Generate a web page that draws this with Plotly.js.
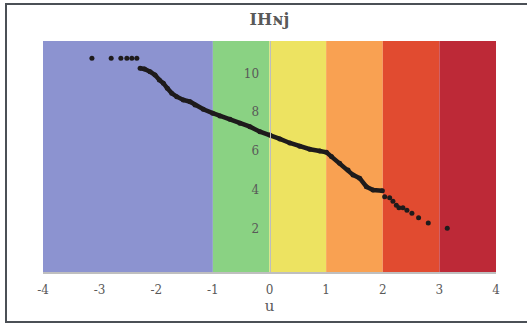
<!DOCTYPE html>
<html>
<head>
<meta charset="utf-8">
<script src="https://cdn.plot.ly/plotly-3.0.1.min.js"></script>
<style>
  html, body { margin: 0; padding: 0; background: #ffffff; }
  #wrap { position: relative; width: 527px; height: 323px; overflow: hidden; }
  #chart { position: absolute; left: 0; top: 0; width: 527px; height: 323px; }
  #frame { position: absolute; left: 5px; top: 3px; width: 540px; height: 316px;
           border: 2.5px solid #4b5056; pointer-events: none; }
</style>
</head>
<body>
<div id="wrap">
  <div id="chart"></div>
  <div id="frame"></div>
</div>
<script>
// --- Data (normal quantile u vs value) ---
// isolated low-u points
const uLow = [-3.136, -2.796, -2.625, -2.519, -2.431, -2.343];
const yLow = [10.77, 10.77, 10.77, 10.77, 10.77, 10.77];

// dense central run of points
const uMid = [-2.285, -2.209, -2.109, -2.021, -1.945, -1.874, -1.804, -1.726, -1.638, -1.522,
              -1.403, -1.315, -1.169, -1.003, -0.875, -0.698, -0.522, -0.346, -0.169, 0.006,
              0.183, 0.359, 0.535, 0.712, 0.888, 1.006, 1.094, 1.240, 1.387, 1.475,
              1.593, 1.711, 1.828, 1.993];
const yMid = [10.26, 10.22, 10.08, 9.91, 9.66, 9.49, 9.23, 8.97, 8.80, 8.63,
              8.54, 8.37, 8.15, 7.95, 7.81, 7.64, 7.43, 7.26, 7.00, 6.83,
              6.63, 6.42, 6.25, 6.10, 6.01, 5.94, 5.72, 5.38, 5.03, 4.78,
              4.61, 4.17, 4.00, 3.97];

// isolated high-u points
const uHigh = [2.034, 2.122, 2.180, 2.240, 2.286, 2.356, 2.427, 2.515, 2.633, 2.804, 3.139];
const yHigh = [3.66, 3.61, 3.42, 3.22, 3.09, 3.09, 2.96, 2.81, 2.58, 2.31, 2.04];

// background bands along u
const bandStart = [-4, -1, 0, 1, 2, 3];
const bandEnd   = [-1, 0, 1, 2, 3, 4];
const bandColor = ['#8c93d0', '#8ad283', '#ede361', '#f9a152', '#e14b30', '#bd2937'];

// axis ticks
const xTicks = [-4, -3, -2, -1, 0, 1, 2, 3, 4];
const yTicks = [2, 4, 6, 8, 10];

const FONT = 'DejaVu Serif, Liberation Serif, serif';
const GREY = '#595959';
const DOT = '#1e1b1c';

const traces = [
  { x: uLow, y: yLow, type: 'scatter', mode: 'markers',
    marker: { color: DOT, size: 5 }, hoverinfo: 'skip', showlegend: false },
  { x: uMid, y: yMid, type: 'scatter', mode: 'lines+markers',
    line: { color: DOT, width: 4.5 }, marker: { color: DOT, size: 5 },
    hoverinfo: 'skip', showlegend: false },
  { x: uHigh, y: yHigh, type: 'scatter', mode: 'markers',
    marker: { color: DOT, size: 5 }, hoverinfo: 'skip', showlegend: false }
];

const shapes = bandStart.map((s, i) => ({
  type: 'rect', xref: 'x', yref: 'paper', x0: s, x1: bandEnd[i], y0: 0, y1: 1,
  fillcolor: bandColor[i], line: { width: 0 }, layer: 'below'
}));

const layout = {
  width: 527, height: 323,
  margin: { l: 43, r: 31, t: 41, b: 51 },
  paper_bgcolor: '#ffffff', plot_bgcolor: '#ffffff',
  font: { family: FONT, color: GREY, size: 12 },
  title: { text: 'IHɴj', x: 0.5, xref: 'paper', xanchor: 'center',
           y: 1 - 19 / 323, yref: 'container', yanchor: 'middle',
           font: { family: FONT, size: 16, color: GREY, weight: 'bold' } },
  xaxis: { range: [-4, 4], tickvals: xTicks, ticktext: xTicks.map(String),
           showgrid: false, zeroline: false, showline: true, linecolor: '#bfbfbf', linewidth: 2,
           ticks: '', ticklabelstandoff: 6,
           tickfont: { family: FONT, size: 12, color: GREY } ,
           title: { text: 'u', standoff: 4, font: { family: FONT, size: 15, color: GREY } } },
  yaxis: { range: [-0.21, 11.66], tickvals: yTicks, ticktext: yTicks.map(String),
           anchor: 'free', position: 0.5, side: 'left',
           showgrid: false, zeroline: false, showline: true, linecolor: '#bdbdbd', linewidth: 1,
           ticks: '', ticklabelstandoff: 8,
           tickfont: { family: FONT, size: 12, color: GREY } },
  shapes: shapes
};

Plotly.newPlot('chart', traces, layout, { displayModeBar: false, staticPlot: true });
</script>
</body>
</html>
